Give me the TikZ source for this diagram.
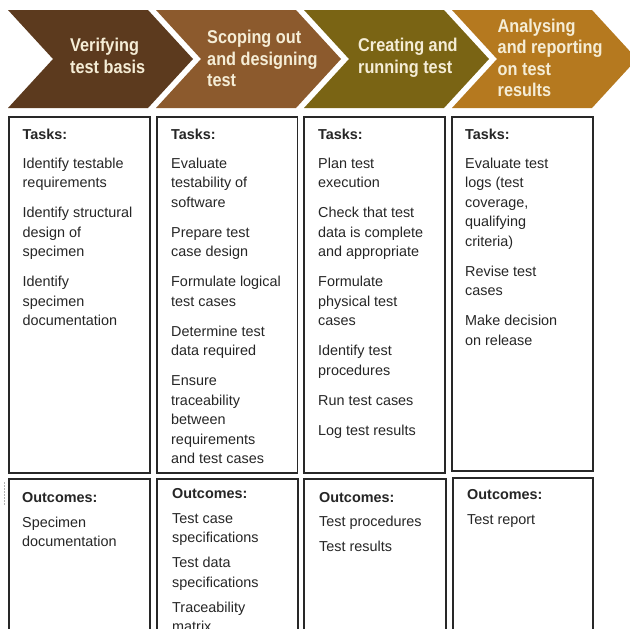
\documentclass[tikz,border=0pt]{standalone}
\usepackage{fontspec}
\setmainfont{Liberation Sans}
\newfontfamily\chevfont[FakeStretch=0.88]{Liberation Sans}
\definecolor{chA}{RGB}{92,58,30}
\definecolor{chB}{RGB}{140,90,45}
\definecolor{chC}{RGB}{122,100,20}
\definecolor{chD}{RGB}{181,121,31}
\definecolor{chtext}{RGB}{245,237,214}
\definecolor{boxline}{RGB}{40,40,40}
\tikzset{
  chev/.style={draw=none},
  chevtext/.style={anchor=north west, inner sep=0pt, align=left, text=chtext,
    font=\chevfont\bfseries\fontsize{18.5}{21.5}\selectfont},
  panel/.style={draw=boxline, line width=1.3pt, fill=white, inner sep=0pt},
  paneltext/.style={anchor=north west, inner sep=0pt, align=left, text=black!85,
    font=\fontsize{14.4}{19.5}\selectfont},
}
\newcommand{\fl}{\rule{0pt}{12pt}}
\newcommand{\chevstrut}{\rule{0pt}{14pt}}
\begin{document}
\begin{tikzpicture}[x=1pt,y=-1pt]
\useasboundingbox (0,0) rectangle (630,629);
\clip (0,0) rectangle (630,629);
\fill[white] (0,0) rectangle (630,629);
% chevrons
\foreach \x/\c in {8/chA,156/chB,304/chC,452/chD}{
  \fill[\c] (\x,10) -- (\x+140,10) -- (\x+185,59) -- (\x+140,108) -- (\x,108) -- (\x+45,59) -- cycle;
}
\node[chevtext] (h1) at (70,37.7) {\chevstrut Verifying\\test basis};
\node[chevtext] (h2) at (207,29.5) {\chevstrut Scoping out\\and designing\\test};
\node[chevtext] (h3) at (358,37.5) {\chevstrut Creating and\\running test};
\node[chevtext] (h4) at (497.5,18) {\chevstrut Analysing\\and reporting\\on test\\results};
% task panels
\node[panel, minimum width=141pt, minimum height=356pt] (t1) at (79.5,295) {};
\node[panel, minimum width=140.5pt, minimum height=356pt] (t2) at (227.25,295) {};
\node[panel, minimum width=141pt, minimum height=356pt] (t3) at (374.5,295) {};
\node[panel, minimum width=141pt, minimum height=354pt] (t4) at (522.5,294) {};
% outcome panels
\node[panel, minimum width=141pt, minimum height=200pt] (o1) at (79.5,579) {};
\node[panel, minimum width=141pt, minimum height=200pt] (o2) at (227.5,579) {};
\node[panel, minimum width=142pt, minimum height=200pt] (o3) at (375,579) {};
\node[panel, minimum width=140pt, minimum height=200pt] (o4) at (523,578) {};
% task texts
\node[paneltext] (tt1) at (22.5,127.5) {\fl\textbf{Tasks:}\\[9pt]
Identify testable\\requirements\\[10.5pt]
Identify structural\\design of\\specimen\\[10.5pt]
Identify\\specimen\\documentation};
\node[paneltext] (tt2) at (171,127.5) {\fl\textbf{Tasks:}\\[9pt]
Evaluate\\testability of\\software\\[10.5pt]
Prepare test\\case design\\[10.5pt]
Formulate logical\\test cases\\[10.5pt]
Determine test\\data required\\[10.5pt]
Ensure\\traceability\\between\\requirements\\and test cases};
\node[paneltext] (tt3) at (318,127.5) {\fl\textbf{Tasks:}\\[9pt]
Plan test\\execution\\[10.5pt]
Check that test\\data is complete\\and appropriate\\[10.5pt]
Formulate\\physical test\\cases\\[10.5pt]
Identify test\\procedures\\[10.5pt]
Run test cases\\[10.5pt]
Log test results};
\node[paneltext] (tt4) at (465,127.5) {\fl\textbf{Tasks:}\\[9pt]
Evaluate test\\logs (test\\coverage,\\qualifying\\criteria)\\[10.5pt]
Revise test\\cases\\[10.5pt]
Make decision\\on release};
% outcome texts
\node[paneltext] (ot1) at (22,490) {\fl\textbf{Outcomes:}\\[5.5pt]
Specimen\\documentation};
\node[paneltext] (ot2) at (172,486) {\fl\textbf{Outcomes:}\\[5.5pt]
Test case\\specifications\\[5.5pt]
Test data\\specifications\\[5.5pt]
Traceability\\matrix};
\node[paneltext] (ot3) at (319,490) {\fl\textbf{Outcomes:}\\[5pt]
Test procedures\\[5pt]
Test results};
\node[paneltext] (ot4) at (467,487) {\fl\textbf{Outcomes:}\\[5.5pt]
Test report};
% small dotted mark at left
\draw[gray!60, line width=0.8pt, dash pattern=on 1.5pt off 1.5pt] (4,482) -- (4,505);
\end{tikzpicture}
\end{document}
